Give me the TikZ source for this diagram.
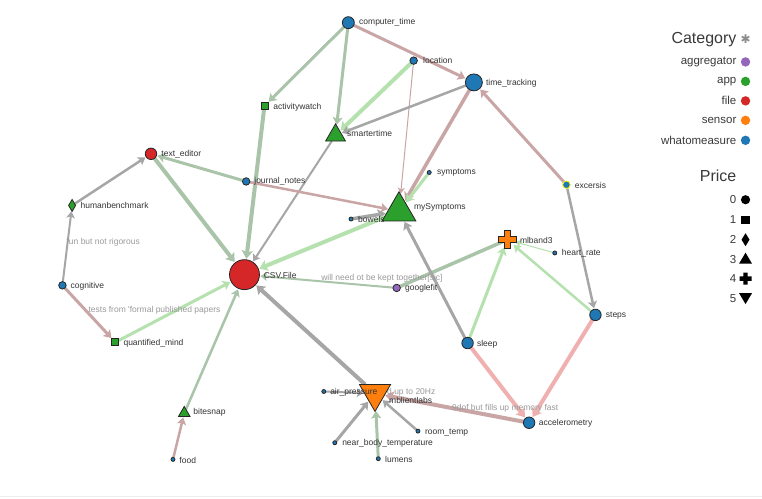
\documentclass[tikz,border=0pt]{standalone}
\usepackage{fontspec}
\newfontfamily\lsans{Liberation Sans}
\newfontfamily\symfont{DejaVu Sans}
\usetikzlibrary{shapes.geometric,arrows.meta}
\pgfdeclarelayer{bg}
\pgfdeclarelayer{elabels}
\pgfdeclarelayer{edges}
\pgfsetlayers{bg,edges,elabels,main}
\definecolor{cblue}{HTML}{1F77B4}
\definecolor{cgreen}{HTML}{2CA02C}
\definecolor{cred}{HTML}{D62728}
\definecolor{corange}{HTML}{FF7F0E}
\definecolor{cpurple}{HTML}{9467BD}
\definecolor{cyellow}{HTML}{F2F20A}
\definecolor{egray}{HTML}{A6A6A6}
\definecolor{esage}{HTML}{A9C4A9}
\definecolor{elgreen}{HTML}{B5E1AE}
\definecolor{ebrown}{HTML}{C9A5A5}
\definecolor{epink}{HTML}{F0B0B0}
\definecolor{labelc}{HTML}{333333}
\definecolor{elabelc}{HTML}{9A9A9A}
\definecolor{legc}{HTML}{3A3A3A}
\begin{document}
\begin{tikzpicture}[x=1pt,y=-1pt,
  nd/.style={draw=black!85, line width=0.8pt, inner sep=0pt, outer sep=0pt},
  cnode/.style={nd, circle},
  sqnode/.style={nd, rectangle},
  trinode/.style={nd, regular polygon, regular polygon sides=3},
  lbl/.style={anchor=west, font=\lsans\fontsize{8.5}{10}\selectfont, text=labelc, inner sep=0pt},
  elbl/.style={anchor=west, font=\lsans\fontsize{8.5}{10}\selectfont, text=elabelc, inner sep=0pt},
  legt/.style={anchor=east, font=\lsans\fontsize{11.5}{13}\selectfont, text=legc, inner sep=0pt},
  legh/.style={anchor=east, font=\lsans\fontsize{16}{18}\selectfont, text=legc, inner sep=0pt},
  ar/.style={-{Stealth[length=5pt 0.8, width=6pt 1.3, inset=1.5pt]}, shorten >=1pt},
  gr/.style={draw=egray, color=egray},
  sg/.style={draw=esage, color=esage},
  lg/.style={draw=elgreen, color=elgreen},
  br/.style={draw=ebrown, color=ebrown},
  pk/.style={draw=epink, color=epink},
]
\begin{pgfonlayer}{bg}
\fill[white] (0,0) rectangle (762,499);
\draw[draw=black!7, line width=1pt] (0,497.5) -- (762,497.5);
\end{pgfonlayer}
\useasboundingbox (0,0) rectangle (762,499);

% ---------- nodes ----------
\node[cnode, fill=cblue, minimum size=12pt] (computer_time) at (348.3,22.7) {};
\node[cnode, fill=cblue, minimum size=7.5pt] (location) at (413.7,60.7) {};
\node[cnode, fill=cblue, minimum size=17pt] (time_tracking) at (474,82.5) {};
\node[sqnode, fill=cgreen, minimum size=7pt] (activitywatch) at (264.3,106) {};
\node[trinode, fill=cgreen, minimum size=23pt] (smartertime) at (335.5,135.5) {};
\node[cnode, fill=cred, minimum size=11.5pt] (text_editor) at (150.7,154) {};
\node[cnode, fill=cblue, minimum size=7.5pt] (journal_notes) at (246,181.7) {};
\node[cnode, fill=cblue, minimum size=4pt] (symptoms) at (429.3,172.7) {};
\node[cnode, fill=cblue, draw=cyellow, minimum size=7.5pt] (excersis) at (566.7,185) {};
\node[nd, diamond, fill=cgreen, minimum width=7pt, minimum height=12pt] (humanbenchmark) at (71.7,205.7) {};
\node[trinode, fill=cgreen, minimum size=39pt] (mySymptoms) at (399,211.5) {};
\node[cnode, fill=cblue, minimum size=4pt] (bowels) at (351,219.3) {};
\node[circle, inner sep=0pt, minimum size=14pt] (mlband3) at (507.5,240) {};
\node[cnode, fill=cblue, minimum size=4pt] (heart_rate) at (555,253.3) {};
\node[cnode, fill=cred, minimum size=30pt] (CSV) at (244.3,275) {};
\node[cnode, fill=cpurple, minimum size=7.5pt] (googlefit) at (396.7,288.3) {};
\node[cnode, fill=cblue, minimum size=7.5pt] (cognitive) at (62,285.7) {};
\node[sqnode, fill=cgreen, minimum size=7pt] (quantified_mind) at (115,342.7) {};
\node[cnode, fill=cblue, minimum size=11.5pt] (steps) at (595.7,315.3) {};
\node[cnode, fill=cblue, minimum size=11.5pt] (sleep) at (467.7,343.5) {};
\node[cnode, fill=cblue, minimum size=4pt] (air_pressure) at (323.7,392) {};
\node[trinode, fill=corange, minimum size=36pt, shape border rotate=180] (mblientlabs) at (375,394) {};
\node[trinode, fill=cgreen, minimum size=13.4pt] (bitesnap) at (184,413.7) {};
\node[cnode, fill=cblue, minimum size=4pt] (room_temp) at (418,431.7) {};
\node[cnode, fill=cblue, minimum size=11.5pt] (accelerometry) at (529.3,423.3) {};
\node[cnode, fill=cblue, minimum size=4pt] (near_body_temperature) at (334.7,443.3) {};
\node[cnode, fill=cblue, minimum size=4pt] (food) at (172.7,460) {};
\node[cnode, fill=cblue, minimum size=4pt] (lumens) at (378.3,459.3) {};
% cross symbol of mlband3
\draw[nd, fill=corange, shift={(mlband3.center)}] (-9,-3.1) -- (-3.1,-3.1) -- (-3.1,-9) -- (3.1,-9) -- (3.1,-3.1) -- (9,-3.1) -- (9,3.1) -- (3.1,3.1) -- (3.1,9) -- (-3.1,9) -- (-3.1,3.1) -- (-9,3.1) -- cycle;

% ---------- edges ----------
\begin{pgfonlayer}{edges}
\draw[ar, sg, line width=3pt] (computer_time) -- (activitywatch);
\draw[ar, sg, line width=3pt] (computer_time) -- (smartertime);
\draw[ar, br, line width=3pt] (computer_time) -- (time_tracking);
\draw[ar, lg, line width=4pt] (location) -- (smartertime);
\draw[ar, br, line width=1pt] (location) -- (mySymptoms);
\draw[ar, gr, line width=2.5pt] (time_tracking) -- (smartertime);
\draw[ar, br, line width=3.5pt] (time_tracking) -- (mySymptoms);
\draw[ar, br, line width=3pt] (excersis) -- (time_tracking);
\draw[ar, gr, line width=2.5pt] (excersis) -- (steps);
\draw[ar, sg, line width=4pt] (activitywatch) -- (CSV);
\draw[ar, gr, line width=2pt] (smartertime) -- (CSV);
\draw[ar, sg, line width=4pt] (text_editor) -- (CSV);
\draw[ar, sg, line width=3pt] (journal_notes) -- (text_editor);
\draw[ar, br, line width=2.5pt] (journal_notes) -- (mySymptoms);
\draw[ar, lg, line width=3pt] (symptoms) -- (mySymptoms);
\draw[ar, gr, line width=3.5pt] (bowels) -- (mySymptoms);
\draw[ar, lg, line width=4pt] (mySymptoms) -- (CSV);
\draw[ar, gr, line width=2.5pt] (humanbenchmark) -- (text_editor);
\draw[ar, gr, line width=2pt] (cognitive) -- (humanbenchmark);
\draw[ar, br, line width=3pt] (cognitive) -- (quantified_mind);
\draw[ar, lg, line width=3pt] (quantified_mind) -- (CSV);
\draw[ar, sg, line width=2.5pt] (bitesnap) -- (CSV);
\draw[ar, br, line width=2.5pt] (food) -- (bitesnap);
\draw[ar, sg, line width=2pt] (googlefit) -- (CSV);
\draw[sg, line width=3.5pt] (googlefit) -- (mlband3.center);
\draw[ar, gr, line width=3pt] (sleep) -- (mySymptoms);
\draw[ar, lg, line width=3pt] (sleep) -- (mlband3);
\draw[ar, lg, line width=2.5pt] (steps) -- (mlband3);
\draw[ar, lg, line width=1pt] (heart_rate) -- (mlband3);
\draw[ar, pk, line width=4pt] (steps) -- (accelerometry);
\draw[ar, pk, line width=4pt] (sleep) -- (accelerometry);
\draw[ar, br, line width=4pt] (accelerometry) -- (mblientlabs);
\draw[ar, gr, line width=4pt] (mblientlabs) -- (CSV);
\draw[ar, gr, line width=2pt] (air_pressure) -- (mblientlabs);
\draw[ar, gr, line width=3pt] (near_body_temperature) -- (mblientlabs);
\draw[ar, gr, line width=2.5pt] (room_temp) -- (mblientlabs);
\draw[ar, sg, line width=3pt] (lumens) -- (mblientlabs);
\end{pgfonlayer}

% ---------- edge labels ----------
\begin{pgfonlayer}{elabels}
\node[elbl] (el1) at (66,243) {fun but not rigorous};
\node[elbl] (el2) at (88,311) {tests from 'formal published papers};
\node[elbl] (el3) at (321,279) {will need ot be kept together[sic]};
\node[elbl] (el4) at (452,409) {9dof but fills up memory fast};
\node[elbl] (el5) at (387,392.7) {d up to 20Hz};
\end{pgfonlayer}

% ---------- node labels ----------
\node[lbl] (l1) at (359,22.7) {computer\_time};
\node[lbl] (l2) at (423,61) {location};
\node[lbl] (l3) at (486,83) {time\_tracking};
\node[lbl] (l4) at (273,107) {activitywatch};
\node[lbl] (l5) at (347,133.5) {smartertime};
\node[lbl] (l6) at (161,154) {text\_editor};
\node[lbl] (l7) at (254,182) {journal\_notes};
\node[lbl] (l8) at (437,173) {symptoms};
\node[lbl] (l9) at (575,186) {excersis};
\node[lbl] (l10) at (80,206) {humanbenchmark};
\node[lbl] (l11) at (414,207.5) {mySymptoms};
\node[lbl] (l12) at (358,220) {bowels};
\node[lbl] (l13) at (520,240.5) {mlband3};
\node[lbl] (l14) at (562,254) {heart\_rate};
\node[lbl] (l15) at (263.5,276) {CSV.File};
\node[lbl] (l16) at (405,289) {googlefit};
\node[lbl] (l17) at (70,286.5) {cognitive};
\node[lbl] (l18) at (123,343.5) {quantified\_mind};
\node[lbl] (l19) at (606,316) {steps};
\node[lbl] (l20) at (477,344.5) {sleep};
\node[lbl] (l21) at (330,392.5) {air\_pressure};
\node[lbl] (l22) at (389,401) {mblientlabs};
\node[lbl] (l23) at (193,412.5) {bitesnap};
\node[lbl] (l24) at (425,433) {room\_temp};
\node[lbl] (l25) at (539,424) {accelerometry};
\node[lbl] (l26) at (342,444) {near\_body\_temperature};
\node[lbl] (l27) at (179,461) {food};
\node[lbl] (l28) at (385,460) {lumens};

% ---------- legend ----------
\node[legh] (cat) at (737,40) {Category};
\node[inner sep=0pt, text=black!45, font=\symfont\fontsize{12}{12}\selectfont] (ast) at (746,39) {✱};
\node[legt] (t1) at (737,62) {aggregator};
\node[legt] (t2) at (737,81.5) {app};
\node[legt] (t3) at (737,101) {file};
\node[legt] (t4) at (737,120.5) {sensor};
\node[legt] (t5) at (737,140.5) {whatomeasure};
\fill[cpurple] (746,62) circle (4.7);
\fill[cgreen] (746,81.5) circle (4.7);
\fill[cred] (746,101) circle (4.7);
\fill[corange] (746,120.5) circle (4.7);
\fill[cblue] (746,140.5) circle (4.7);
\node[legh] (price) at (737,176) {Price};
\node[legt] (p0) at (737,200) {0};
\node[legt] (p1) at (737,220) {1};
\node[legt] (p2) at (737,240) {2};
\node[legt] (p3) at (737,259.5) {3};
\node[legt] (p4) at (737,279) {4};
\node[legt] (p5) at (737,299) {5};
\fill[black] (746,200) circle (4.6);
\fill[black] (741.8,215.8) rectangle (750.2,224.2);
\fill[black] (746,233.5) -- (750,240) -- (746,246.5) -- (742,240) -- cycle;
\fill[black] (746,253) -- (752.5,264) -- (739.5,264) -- cycle;
\fill[black, shift={(746,279)}] (-6,-2.2) -- (-2.2,-2.2) -- (-2.2,-6) -- (2.2,-6) -- (2.2,-2.2) -- (6,-2.2) -- (6,2.2) -- (2.2,2.2) -- (2.2,6) -- (-2.2,6) -- (-2.2,2.2) -- (-6,2.2) -- cycle;
\fill[black] (739.5,293.5) -- (752.5,293.5) -- (746,304.5) -- cycle;
\end{tikzpicture}
\end{document}
